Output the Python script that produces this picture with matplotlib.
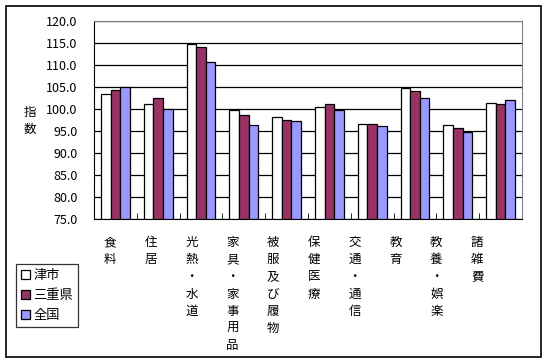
import numpy as np
import matplotlib
matplotlib.use("Agg")
import matplotlib.pyplot as plt
from matplotlib.patches import Rectangle

plt.rcParams['font.family'] = ['Noto Sans CJK JP', 'DejaVu Sans']

#----------------------------------------------------------------------------

categories = ['食料', '住居', '光熱・水道', '家具・家事用品', '被服及び履物',
              '保健医療', '交通・通信', '教育', '教養・娯楽', '諸雑費']
series_names = ['津市', '三重県', '全国']
tsu = [103.3, 101.1, 114.7, 99.7, 98.1, 100.4, 96.7, 104.8, 96.3, 101.3]
mie = [104.3, 102.4, 114.0, 98.6, 97.4, 101.1, 96.5, 104.0, 95.8, 101.1]
zenkoku = [104.9, 100.0, 110.6, 96.3, 97.2, 99.7, 96.1, 102.4, 94.7, 102.0]
y_ticks = np.arange(75.0, 120.1, 5.0)

colors = ['#FFFFFF', '#993366', '#9999FF']

#----------------------------------------------------------------------------

fig = plt.figure(figsize=(5.48, 3.63), dpi=100)
fig.patches.append(Rectangle((6/548, 6/363), 535/548, 351/363, transform=fig.transFigure,
                             fill=False, edgecolor='black', linewidth=1.2))

ax = fig.add_axes([94/548, 143.7/363, 428/548, 198.6/363])

x = np.arange(len(categories))
w = 0.224
for k, (vals, name) in enumerate(zip([tsu, mie, zenkoku], series_names)):
    ax.bar(x + (k - 1) * w, np.array(vals) - 75.0, bottom=75.0, width=w,
           color=colors[k], edgecolor='black', linewidth=0.9, label=name, zorder=3)

ax.set_xlim(-0.5, len(categories) - 0.5)
ax.set_ylim(75, 120)
ax.set_yticks(y_ticks)
ax.set_yticklabels(['%.1f' % v for v in y_ticks], fontsize=9)
ax.yaxis.grid(True, color='black', linewidth=0.9, zorder=0)
ax.tick_params(axis='y', length=0, pad=12)

# category boundaries as small inward ticks
ax.set_xticks(np.arange(-0.5, len(categories)), minor=True)
ax.tick_params(axis='x', which='minor', direction='in', length=4, color='black')
# the original spreads its labels a bit tighter than the categories
ax.set_xticks(x * 0.953 - 0.126)
ax.set_xticklabels(['\n'.join(c) for c in categories], fontsize=9, linespacing=1.42, va='top')
ax.tick_params(axis='x', which='major', length=0, pad=12)

for s in ['top', 'right']:
    ax.spines[s].set_color('#808080')
for s in ['left', 'bottom']:
    ax.spines[s].set_color('black')

fig.text(30/548, (363 - 121)/363, '指\n数', fontsize=9, ha='center', va='center', linespacing=1.4)

leg = fig.legend(loc='lower left', bbox_to_anchor=(16/548, 36/363), bbox_transform=fig.transFigure,
                 fontsize=9.5, frameon=True, fancybox=False, handlelength=0.7, handleheight=0.7,
                 handletextpad=0.25, borderpad=0.35, labelspacing=0.55, borderaxespad=0)
leg.get_frame().set_edgecolor('black')
leg.get_frame().set_linewidth(0.9)

fig.savefig('out.png', dpi=100)
